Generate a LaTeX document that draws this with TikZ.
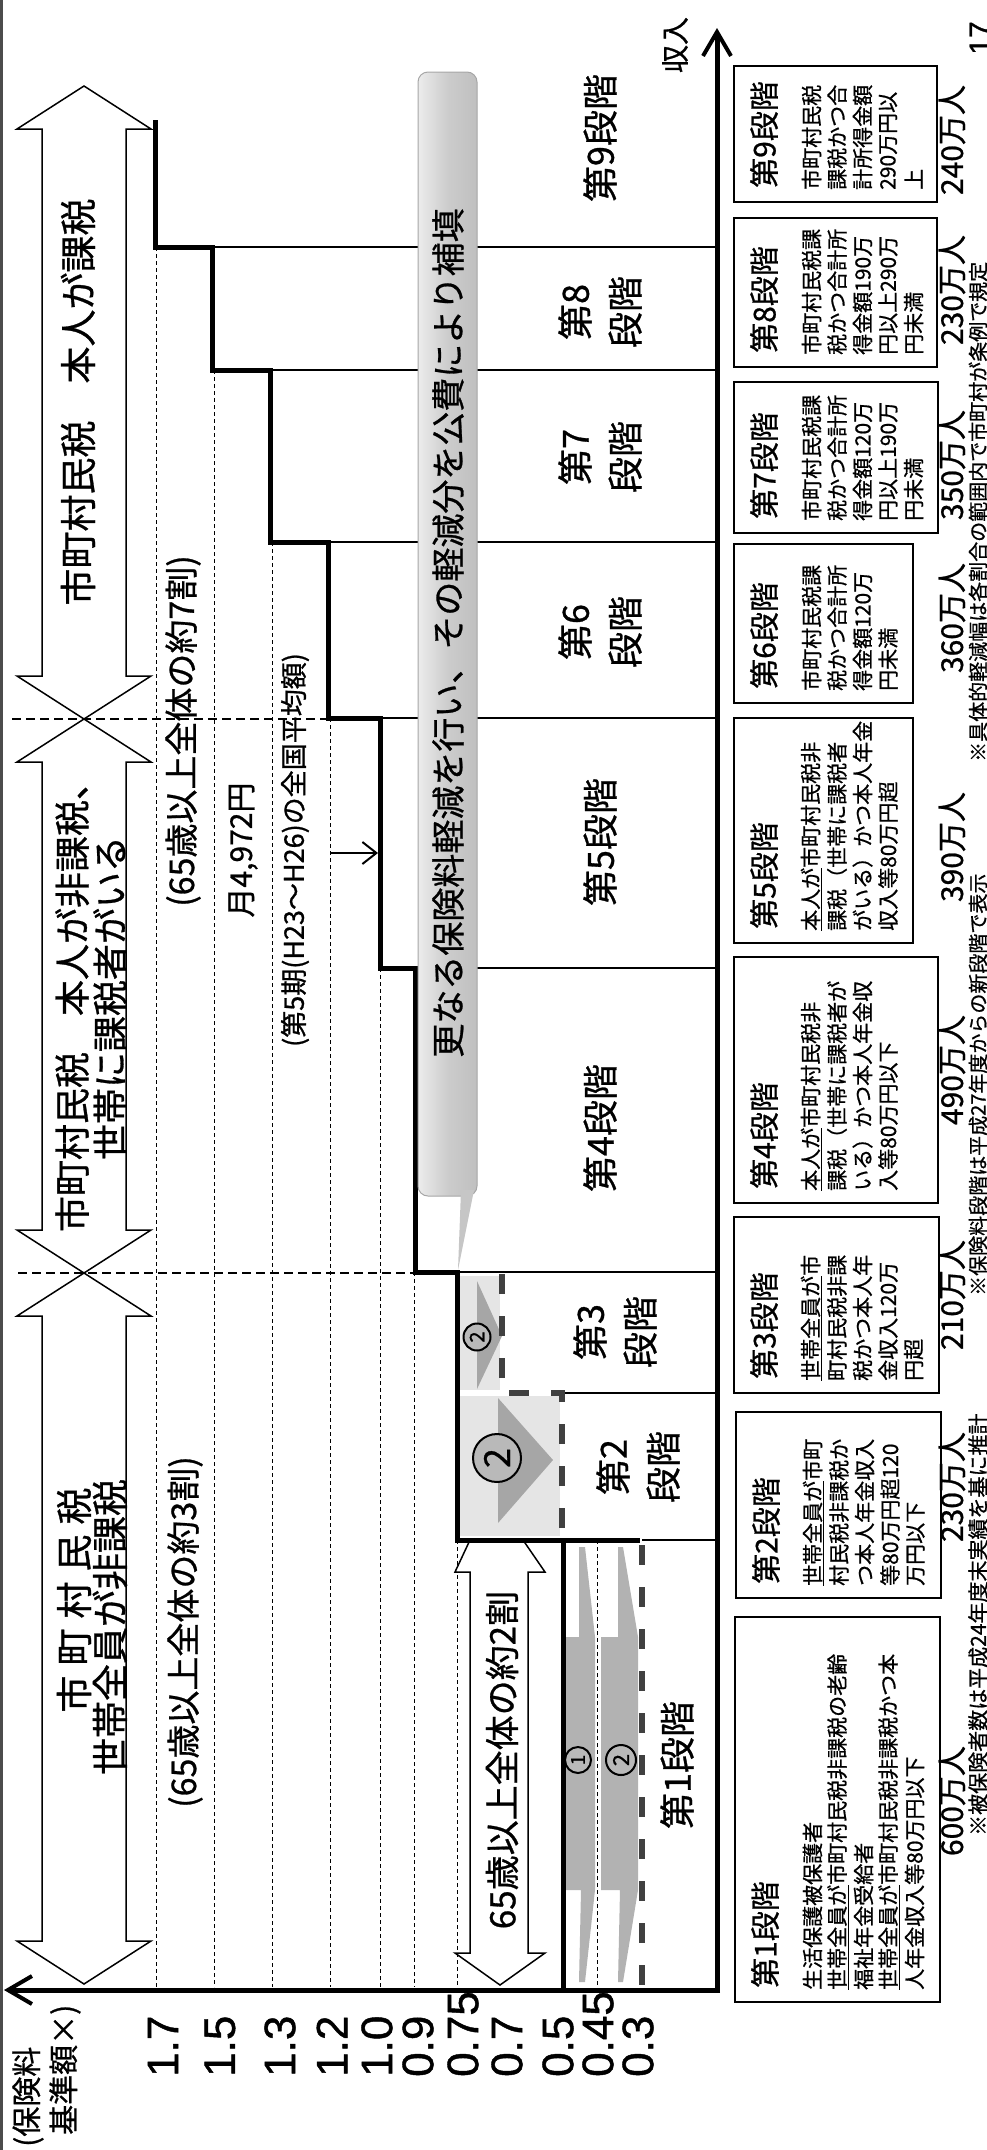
\documentclass[tikz,border=0pt]{standalone}
\usepackage{fontspec}
\setmainfont{Noto Sans CJK JP}[FakeBold=0.8]
\newfontfamily\numfont{Liberation Sans}[FakeBold=1]
\usetikzlibrary{arrows.meta}
\newcommand{\fs}[1]{\fontsize{#1}{#1}\selectfont}
\tikzset{
  vtext/.style={rotate=90, inner sep=0pt},
  stepline/.style={line width=5pt},
  stageline/.style={line width=1.8pt},
  gridline/.style={line width=1pt, dash pattern=on 4pt off 3pt},
  sepline/.style={line width=2.5pt, dash pattern=on 9pt off 5pt},
  cutline/.style={line width=6pt, black!75, dash pattern=on 20pt off 22pt},
  cutmark/.style={circle, draw, line width=2pt, fill=gray!55, inner sep=0pt, rotate=90},
  bigarrow/.style={draw, line width=1.5pt, fill=white},
  legbox/.style={draw, line width=1.5pt},
  axisline/.style={line width=5pt, -{Straight Barb[length=24pt, width=28pt, line width=4pt]}},
}
\newcommand{\stagebox}[7]{%
  \draw[legbox] (#2,#3) rectangle (#4,#5);
  \node[vtext, anchor=west, font=\fs{30}] (box#1) at ({#2+30},{#5-14}) {#6};
  \foreach \t [count=\k] in {#7}
    \node[vtext, anchor=west, font=\fs{21}] (box#1l\k) at ({#2+52+25.5*\k},{#5-12}) {\t};
}
\begin{document}
\begin{tikzpicture}[x=1pt, y=-1pt]
\useasboundingbox (0,0) rectangle (987,2150);
\draw[line width=3pt, black!70] (1.5,0) -- (1.5,2150);

\foreach \gx/\gy in {156/247, 214/370, 272/542, 330/718, 380/968, 414/1272, 457/1540, 597/1540}
  \draw[gridline] (\gx,\gy) -- (\gx,1987);
\foreach \sx/\sy in {212/247, 270/370, 328/542, 380/718, 415/968, 457/1272, 562/1393, 642/1540}
  \draw[stageline] (\sx,\sy) -- (717,\sy);

\foreach \ya/\yb in {86/719, 719/1273, 1273/1984}
  \draw[bigarrow] (84,\ya) -- (151,{\ya+43}) -- (126,{\ya+43}) -- (126,{\yb-43}) -- (151,{\yb-43})
    -- (84,\yb) -- (17,{\yb-43}) -- (42,{\yb-43}) -- (42,{\ya+43}) -- (17,{\ya+43}) -- cycle;
\draw[sepline] (12,719) -- (328,719);
\draw[sepline] (18,1273) -- (415,1273);

\node[vtext, font=\fs{37}] (taxA) at (78,402) {市町村民税　本人が課税};
\node[vtext, font=\fontsize{36}{38}\selectfont, align=center] (taxB) at (91,998) {市町村民税　本人が非課税、\\世帯に課税者がいる};
\node[vtext, font=\fs{37}] (taxC1) at (74,1600) {市\hspace{10pt}町\hspace{10pt}村\hspace{10pt}民\hspace{10pt}税};
\node[vtext, font=\fs{37}] (taxC2) at (110,1627) {世帯全員が非課税};

\node[vtext, font=\fs{34}] (share7) at (183,731) {(65歳以上全体の約7割)};
\node[vtext, font=\fs{34}] (share3) at (185,1632) {(65歳以上全体の約3割)};
\node[vtext, font=\fs{30}] (avg) at (243,850) {月4,972円};
\node[vtext, font=\fs{27}] (avgnote) at (295,850) {(第5期(H23～H26)の全国平均額)};
\coordinate (avgtip) at (378,853);
\draw[line width=2pt, -{Straight Barb[length=14pt, width=22pt, line width=2pt]}] (330,853) -- (avgtip);

\draw[bigarrow] (470,1540) -- (523,1540) -- (545,1572) -- (528,1572) -- (528,1953) -- (545,1953)
  -- (500,1985) -- (455,1953) -- (470,1953) -- (470,1572) -- (455,1572) -- cycle;
\node[vtext, font=\fs{35}] (share2) at (502,1760) {65歳以上全体の約2割};

\fill[gray!20] (460,1276) rectangle (500,1390);
\fill[gray!70] (477,1281) -- (502,1336) -- (477,1389) -- cycle;
\node[cutmark, minimum size=27pt, font=\fs{20}] (cut3) at (477,1337) {2};
\fill[gray!20] (460,1396) rectangle (560,1536);
\fill[gray!70] (498,1398) -- (553,1460) -- (498,1523) -- cycle;
\node[cutmark, minimum size=48pt, font=\fs{36}] (cut2) at (497,1458) {2};
\draw[cutline] (502,1274) -- (502,1393) -- (562,1393) -- (562,1537);

\fill[gray!60] (579,1547) -- (585,1547) -- (595,1637) -- (595,1890) -- (585,1982) -- (579,1982) -- (581,1890)
  -- (565,1890) -- (565,1637) -- (579,1637) -- cycle;
\fill[gray!60] (618,1547) -- (623,1547) -- (638,1637) -- (638,1890) -- (623,1982) -- (618,1982) -- (620,1890)
  -- (601,1890) -- (601,1637) -- (618,1637) -- cycle;
\node[cutmark, minimum size=26pt, font=\fs{19}] (cut1a) at (578,1760) {1};
\node[cutmark, minimum size=30pt, font=\fs{22}] (cut1b) at (621,1760) {2};
\draw[cutline] (642,1545) -- (642,1987);

\draw[stepline] (155,120) -- (155,247) -- (212,247) -- (212,370) -- (270,370) -- (270,542) -- (328,542)
  -- (328,718) -- (380,718) -- (380,968) -- (415,968) -- (415,1272) -- (457,1272) -- (457,1540)
  -- (563,1540) -- (563,1990);
\draw[stepline] (563,1540) -- (640,1540);

\draw[gray!70, line width=1pt, left color=gray!15, right color=gray!50, middle color=gray!40, rounded corners=10pt] (418,72) rectangle (477,1196);
\fill[gray!45] (461,1190) -- (474,1190) -- (458,1270) -- cycle;
\node[vtext, font=\fs{34}] (callout) at (448,633) {更なる保険料軽減を行い、その軽減分を公費により補填};

\coordinate (orig) at (717,1990);
\draw[axisline] (orig) -- (717,28);
\draw[axisline] (720,1990) -- (4,1990);
\node[vtext, font=\fs{28}] (inclabel) at (675,45) {収入};
\node[vtext, anchor=west, font=\fs{30}] (ylab1) at (28,2147) {(保険料};
\node[vtext, anchor=west, font=\fs{30}] (ylab2) at (65,2135) {基準額×)};
\foreach \v/\lx [count=\i] in {1.7/163, 1.5/220, 1.3/280, 1.2/332, 1.0/377, 0.9/418, 0.75/463, 0.7/507, 0.5/558, 0.45/598, 0.3/638}
  \node[vtext, anchor=west, font=\numfont\fs{44}] (tick\i) at (\lx,2077) {\v};

\node[vtext, font=\fs{36}] (st9) at (600,138) {第9段階};
\node[vtext, font=\fontsize{36}{50}\selectfont, align=center] (st8) at (600,312) {第8\\段階};
\node[vtext, font=\fontsize{36}{50}\selectfont, align=center] (st7) at (600,457) {第7\\段階};
\node[vtext, font=\fontsize{36}{50}\selectfont, align=center] (st6) at (600,632) {第6\\段階};
\node[vtext, font=\fs{36}] (st5) at (600,842) {第5段階};
\node[vtext, font=\fs{36}] (st4) at (600,1128) {第4段階};
\node[vtext, font=\fontsize{36}{50}\selectfont, align=center] (st3) at (615,1332) {第3\\段階};
\node[vtext, font=\fontsize{36}{50}\selectfont, align=center] (st2) at (638,1467) {第2\\段階};
\node[vtext, font=\fs{36}] (st1) at (677,1765) {第1段階};

\stagebox{9}{734}{66}{937}{202}{第9段階}{市町村民税, 課税かつ合, 計所得金額, 290万円以, 上}
\stagebox{8}{734}{218}{937}{367}{第8段階}{市町村民税課, 税かつ合計所, 得金額190万, 円以上290万, 円未満}
\stagebox{7}{734}{382}{938}{533}{第7段階}{市町村民税課, 税かつ合計所, 得金額120万, 円以上190万, 円未満}
\stagebox{6}{734}{544}{913}{703}{第6段階}{市町村民税課, 税かつ合計所, 得金額120万, 円未満}
\stagebox{5}{734}{718}{913}{943}{第5段階}{\underline{本人が}市町村民税非, 課税（世帯に課税者, がいる）かつ本人年金, 収入等80万円超}
\stagebox{4}{734}{957}{938}{1203}{第4段階}{\underline{本人が}市町村民税非, 課税（世帯に課税者が, いる）かつ本人年金収, 入等80万円以下}
\stagebox{3}{734}{1217}{939}{1393}{第3段階}{\underline{世帯全員が}市, 町村民税非課, 税かつ本人年, 金収入120万, 円超}
\stagebox{2}{736}{1412}{941}{1598}{第2段階}{\underline{世帯全員が}市町, 村民税非課税か, つ本人年金収入, 等80万円超120, 万円以下}
\stagebox{1}{735}{1617}{940}{2002}{第1段階}{生活保護被保護者, \underline{世帯全員が}市町村民税非課税の老齢, 福祉年金受給者, \underline{世帯全員が}市町村民税非課税かつ本, 人年金収入等80万円以下}

\foreach \c/\cy [count=\i] in {240/140, 230/290, 350/465, 360/618, 390/847, 490/1070, 210/1295, 230/1487, 600/1801}
  \node[vtext, font=\fs{30}] (cnt\i) at (952,\cy) {\c 万人};

\node[vtext, anchor=west, font=\fs{20}] (note3) at (978,762) {※具体的軽減幅は各割合の範囲内で市町村が条例で規定};
\node[vtext, anchor=west, font=\fs{20}] (note2) at (978,1296) {※保険料段階は平成27年度からの新段階で表示};
\node[vtext, anchor=west, font=\fs{21}] (note1) at (978,1836) {※被保険者数は平成24年度末実績を基に推計};
\node[vtext, font=\numfont\fs{30}] (pageno) at (980,38) {17};
\end{tikzpicture}
\end{document}
